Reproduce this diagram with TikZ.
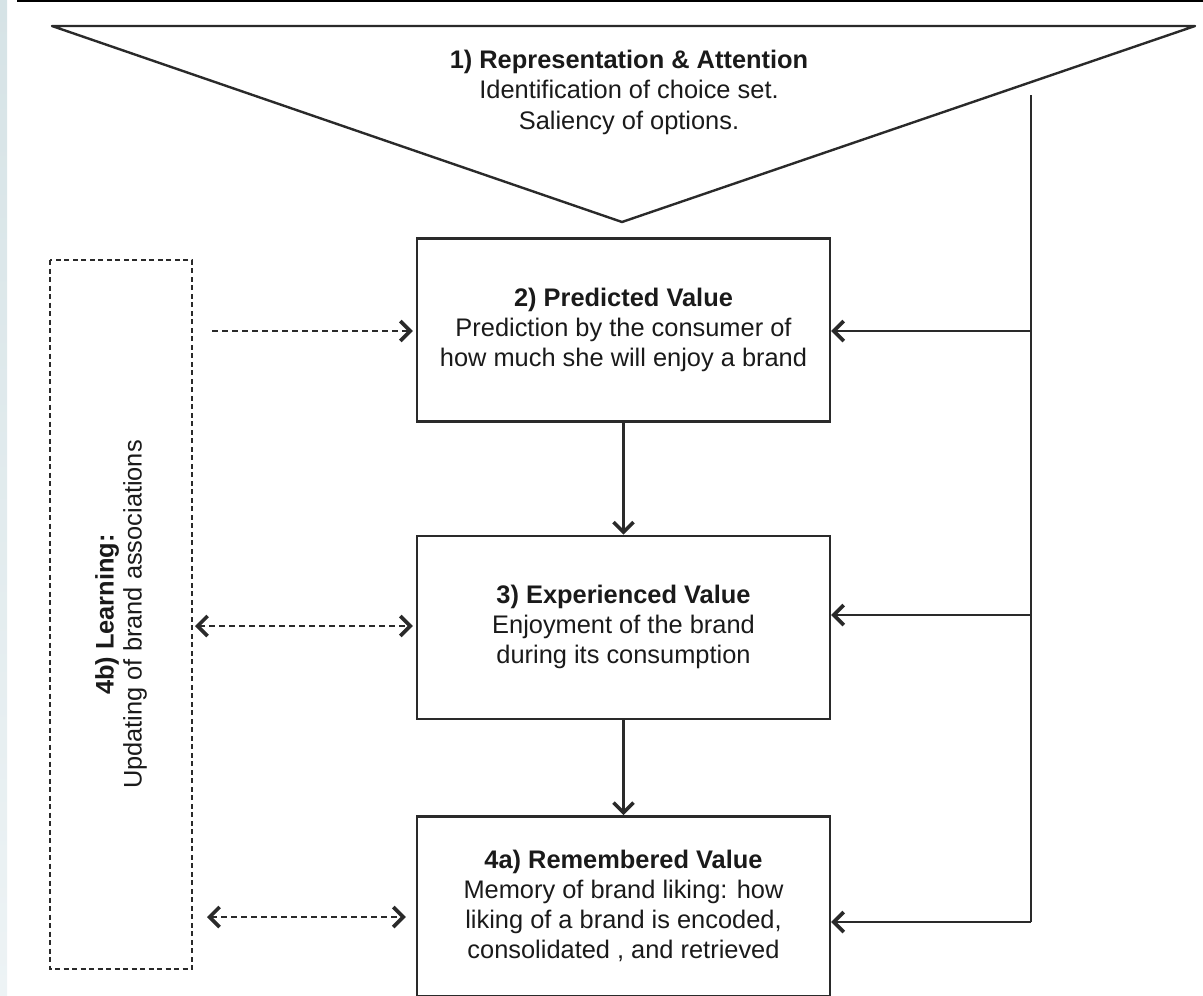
\documentclass[tikz,border=0pt]{standalone}
\usepackage{fontspec}
\setmainfont{Liberation Sans}
\usetikzlibrary{arrows.meta, positioning, calc}
\definecolor{stripblue}{HTML}{D6E3E6}
\definecolor{stripbluelight}{HTML}{EDF3F5}
\definecolor{linegray}{HTML}{2A2A2A}
\definecolor{textgray}{HTML}{1A1A1A}

\begin{document}
\begin{tikzpicture}[x=1pt, y=-1pt,
      stage/.style={draw=linegray, line width=2.4pt, minimum width=413pt,
        minimum height=183pt, align=center, text=textgray,
        font=\fontsize{25.4}{30}\selectfont},
      learnbox/.style={draw=linegray, line width=2.4pt,
        dash pattern=on 5pt off 3.5pt, align=center, text=textgray,
        font=\fontsize{25.4}{28}\selectfont},
      wire/.style={draw=linegray, line width=2.4pt},
      flow/.style={wire, ->},
      feedback/.style={wire, dash pattern=on 6pt off 4pt},
      >={Straight Barb[length=10pt, width=20pt, line width=3.6pt]}
    ]
      \useasboundingbox (0,0) rectangle (1203,996);
      \shade[top color=stripblue, bottom color=stripbluelight]
        (0,0) rectangle (7,996);
      \draw[black, line width=1.6pt] (17,0.8) -- (1203,0.8);

      % 1) representation and attention
      \coordinate (tl) at (52,26);
      \coordinate (tr) at (1195,26);
      \coordinate (apex) at (622,222);
      \draw[wire, line join=round] (tl) -- (tr) -- (apex) -- cycle;
      \node[align=center, text=textgray,
        font=\fontsize{25.4}{30.5}\selectfont] (attn) at (629,92)
        {\bfseries 1) Representation \& Attention\\
         Identification of choice set.\\Saliency of options.};

      % stages
      \node[stage] (pv) at (623.5,330)
        {\bfseries 2) Predicted Value\\Prediction by the consumer of\\
         how much she will enjoy a brand};
      \node[stage, below=112pt of pv] (ev)
        {\bfseries 3) Experienced Value\\Enjoyment of the brand\\
         during its consumption};
      \node[stage, below=95pt of ev, minimum height=180pt] (rv)
        {\bfseries 4a) Remembered Value\\Memory of brand liking: how\\
         liking of a brand is encoded,\\consolidated , and retrieved};
      \draw[flow] (pv) -- (ev);
      \draw[flow] (ev) -- (rv);

      % attention feeds every stage
      \coordinate (rtop) at (1031,95);
      \coordinate (r2) at (1031,331);
      \coordinate (r3) at (1031,615);
      \coordinate (r4) at (1031,922);
      \draw[wire] (rtop) -- (r4);
      \draw[flow] (r2) -- (r2 -| pv.east);
      \draw[flow] (r3) -- (r3 -| ev.east);
      \draw[flow] (r4) -- (r4 -| rv.east);

      % 4b) learning
      \node[learnbox, rotate=90, minimum width=709pt, minimum height=142pt]
        (learn) at (121,614.5)
        {\bfseries 4b) Learning:\\Updating of brand associations};
      \coordinate (l2) at (212,331);
      \coordinate (l3) at (195,626);
      \coordinate (l4) at (207,917);
      \draw[feedback, ->, shorten >=3pt] (l2) -- (l2 -| pv.west);
      \draw[feedback, <->, shorten >=3pt] (l3) -- (l3 -| ev.west);
      \draw[feedback, <->, shorten >=10pt] (l4) -- (l4 -| rv.west);
    \end{tikzpicture}
\end{document}
